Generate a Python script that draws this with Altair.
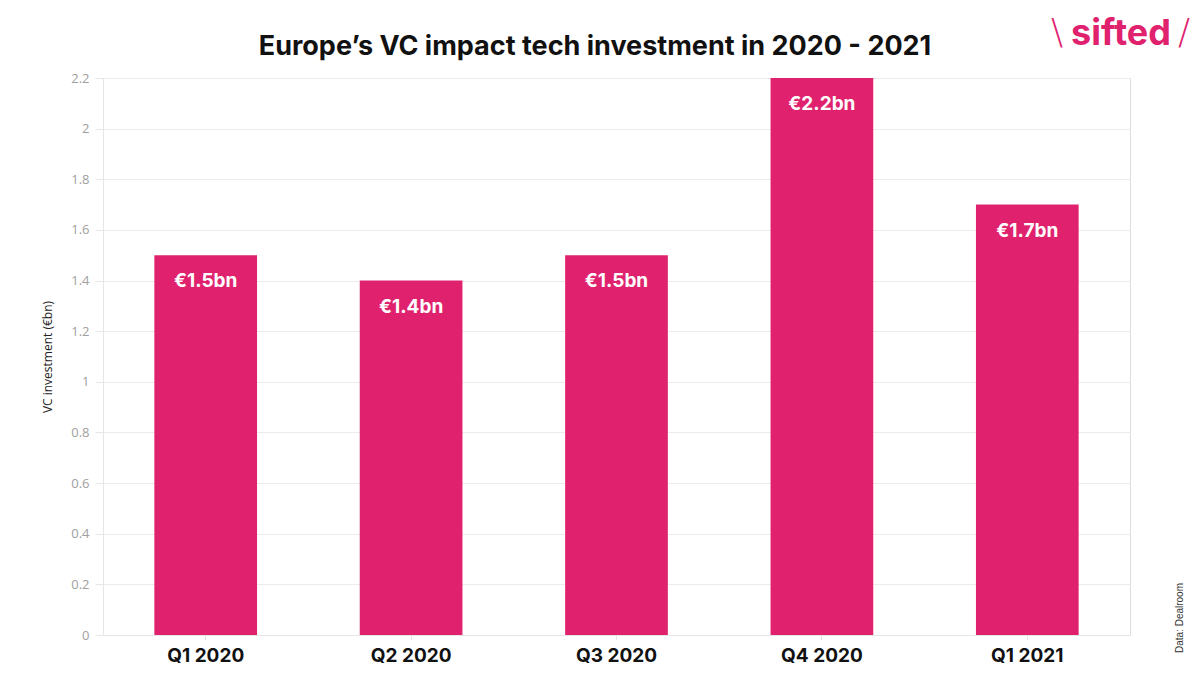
import altair as alt
import pandas as pd

# Data
quarters = ["Q1 2020", "Q2 2020", "Q3 2020", "Q4 2020", "Q1 2021"]
investment = [1.5, 1.4, 1.5, 2.2, 1.7]
labels = ["€1.5bn", "€1.4bn", "€1.5bn", "€2.2bn", "€1.7bn"]
y_ticks = [0, 0.2, 0.4, 0.6, 0.8, 1, 1.2, 1.4, 1.6, 1.8, 2, 2.2]
title_text = "Europe’s VC impact tech investment in 2020 - 2021"

df = pd.DataFrame({"quarter": quarters, "value": investment, "label": labels})

PINK = "#E0226E"
W, H = 1027, 557


def note(txt, **mark_kw):
    # single annotation text, positioned in plot pixels
    x, y = mark_kw.pop("px"), mark_kw.pop("py")
    return alt.Chart(pd.DataFrame({"t": [txt]})).mark_text(**mark_kw).encode(
        x=alt.value(x), y=alt.value(y), text="t:N")


x_enc = alt.X("quarter:N", sort=quarters, title=None,
              scale=alt.Scale(paddingInner=0.5, paddingOuter=0.25),
              axis=alt.Axis(labelAngle=0, labelFont="Inter", labelFontSize=19,
                            labelFontWeight="bold", labelColor="#111111",
                            labelPadding=6, domainColor="#e6e6e6",
                            tickColor="#e6e6e6", tickSize=5))
y_enc = alt.Y("value:Q", title="VC investment (€bn)",
              scale=alt.Scale(domain=[0, 2.2], nice=False),
              axis=alt.Axis(values=y_ticks, format="~g", labelFont="Open Sans",
                            labelFontSize=13, labelColor="#a0a0a0",
                            labelPadding=6, gridColor="#ebebeb",
                            domainColor="#e6e6e6", tickColor="#e6e6e6",
                            tickSize=8, titleFont="Open Sans",
                            titleFontSize=12, titleFontWeight="normal",
                            titleColor="#222222", titlePadding=16))

bars = alt.Chart(df).mark_bar(color=PINK).encode(x=x_enc, y=y_enc)

text = alt.Chart(df).mark_text(color="white", font="Inter", fontSize=19,
                               fontWeight="bold", baseline="middle", dy=26).encode(
    x=alt.X("quarter:N", sort=quarters),
    y=alt.Y("value:Q"),
    text="label:N",
)

title = note(title_text, px=492, py=-31, font="Inter", fontSize=27,
             fontWeight="bold", color="#111111", align="center",
             baseline="middle")
logo_l = note("\\", px=954, py=-45, font="DejaVu Sans", fontSize=36,
              fontWeight=200, color=PINK, align="center", baseline="middle")
logo_w = note("sifted", px=1018, py=-44, font="Inter", fontSize=36,
              fontWeight="bold", color=PINK, align="center", baseline="middle")
logo_r = note("/", px=1081, py=-45, font="DejaVu Sans", fontSize=36,
              fontWeight=200, color=PINK, align="center", baseline="middle")
source = note("Data: Dealroom", px=1077, py=540, font="Liberation Sans",
              fontSize=10, angle=270, color="#333333", align="center",
              baseline="middle")

chart = alt.layer(bars, text, title, logo_l, logo_w, logo_r, source).properties(
    width=W, height=H,
    padding={"left": 95, "top": 70, "right": 60, "bottom": 31},
    autosize=alt.AutoSizeParams(type="none"),
).configure_view(stroke=None).configure(background="white")

chart.save("out.html", embed_options={"renderer": "svg", "actions": False})
